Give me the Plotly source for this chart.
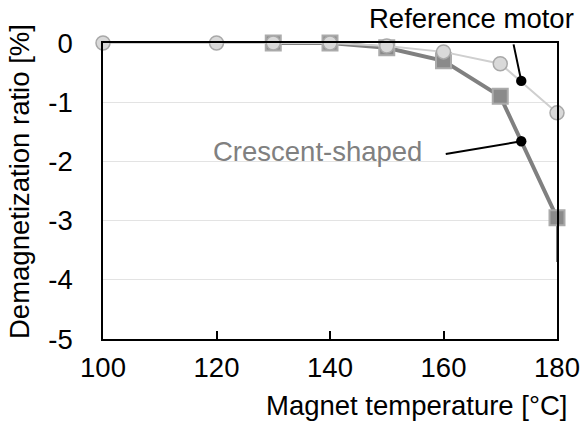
import plotly.graph_objects as go

temps_ref = [100, 120, 130, 140, 150, 160, 170, 180]
ref_vals = [0, 0, 0, 0, -0.05, -0.15, -0.35, -1.18]
temps_cres = [130, 140, 150, 160, 170, 180]
cres_vals = [0, 0, -0.08, -0.3, -0.9, -2.95]
x_ticks = [100, 120, 140, 160, 180]
y_ticks = [0, -1, -2, -3, -4, -5]

fig = go.Figure()
fig.add_trace(go.Scatter(
    x=temps_cres, y=cres_vals, mode="lines+markers",
    line=dict(color="#808080", width=4),
    marker=dict(symbol="square", size=15, color="#8a8a8a", line=dict(color="#ababab", width=2)),
    error_y=dict(type="data", symmetric=False, array=[0]*6, arrayminus=[0, 0, 0, 0, 0, 0.75],
                 color="#808080", thickness=2, width=0),
    cliponaxis=False, showlegend=False))
fig.add_trace(go.Scatter(
    x=temps_ref, y=ref_vals, mode="lines+markers",
    line=dict(color="#cfcfcf", width=2),
    marker=dict(symbol="circle", size=14, color="#d9d9d9", line=dict(color="#a8a8a8", width=1.5)),
    cliponaxis=False, showlegend=False))

font = "Liberation Sans, Arial, sans-serif"
FS = 27.5
fig.add_annotation(x=173.7, y=-0.64, ax=-8, ay=-38, text="", showarrow=True,
                   arrowhead=6, arrowsize=1.3, arrowwidth=2, arrowcolor="black")
fig.add_annotation(x=173.7, y=-1.66, ax=-77, ay=13, text="", showarrow=True,
                   arrowhead=6, arrowsize=1.3, arrowwidth=2, arrowcolor="black")

def px(x, y):
    return (x - 103) / 454, (339 - y) / 296

for txt, cx, cy, col, ang in [("Reference motor", 471, 19, "black", 0),
                              ("Crescent-shaped", 317.5, 151, "#808080", 0),
                              ("Magnet temperature [°C]", 416, 405, "black", 0),
                              ("Demagnetization ratio [%]", 19, 182, "black", -90)]:
    xx, yy = px(cx, cy)
    fig.add_annotation(xref="paper", yref="paper", x=xx, y=yy, text=txt, showarrow=False,
                       textangle=ang, xanchor="center", yanchor="middle",
                       font=dict(size=FS, color=col, family=font))

fig.update_layout(
    width=582, height=427, margin=dict(l=103, r=25, t=43, b=88, autoexpand=False),
    paper_bgcolor="white", plot_bgcolor="white",
    font=dict(family=font, size=FS, color="black"),
    xaxis=dict(range=[100, 180], tickvals=x_ticks, showgrid=False, showline=True, linecolor="black",
               linewidth=1.5, mirror=True, ticks="inside", ticklen=8, tickwidth=1.5, tickcolor="black",
               zeroline=False, fixedrange=True, ticklabelstandoff=3, automargin=False),
    yaxis=dict(range=[-5, 0], tickvals=y_ticks, ticktext=[str(v) for v in y_ticks], showgrid=True,
               gridcolor="#e3e3e3", gridwidth=1, showline=True, linecolor="black", linewidth=1.5,
               mirror=True, ticks="", zeroline=False, ticklabelstandoff=23, automargin=False),
)
fig.write_html("out.html")
